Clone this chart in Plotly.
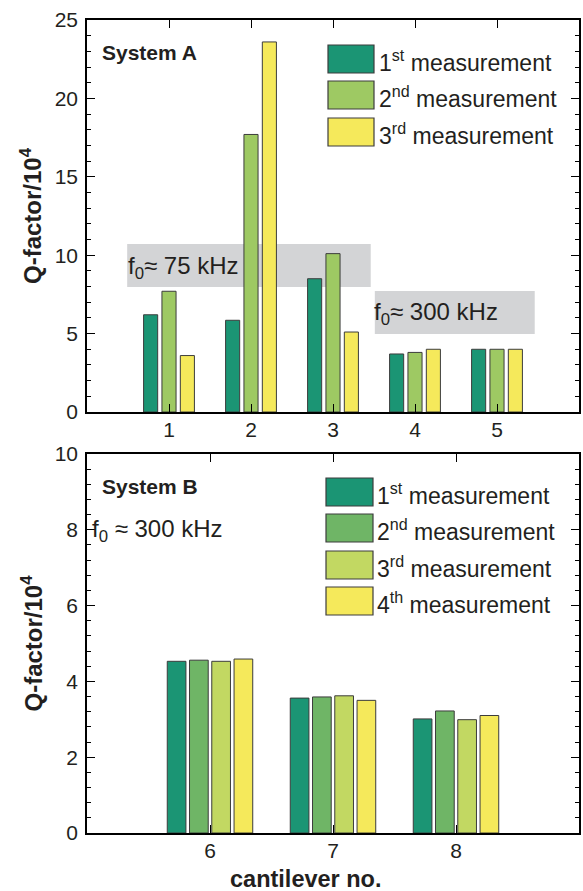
import plotly.graph_objects as go

# ---------------- data ----------------
cantilevers_A = [1, 2, 3, 4, 5]
A_meas1 = [6.2, 5.85, 8.5, 3.7, 4.0]
A_meas2 = [7.7, 17.7, 10.1, 3.8, 4.0]
A_meas3 = [3.6, 23.6, 5.1, 4.0, 4.0]

cantilevers_B = [6, 7, 8]
B_meas1 = [4.53, 3.56, 3.01]
B_meas2 = [4.56, 3.59, 3.22]
B_meas3 = [4.53, 3.62, 2.99]
B_meas4 = [4.59, 3.50, 3.10]

labels_A = ["1<sup>st</sup> measurement", "2<sup>nd</sup> measurement", "3<sup>rd</sup> measurement"]
labels_B = ["1<sup>st</sup> measurement", "2<sup>nd</sup> measurement",
            "3<sup>rd</sup> measurement", "4<sup>th</sup> measurement"]

colors_A = ["#1b9574", "#9ec963", "#f5e95b"]
colors_B = ["#1b9574", "#6fb566", "#c2d862", "#f5e95b"]

# ---------------- figure ----------------
W, H = 583, 891
FONT = "Liberation Sans, Arial, Helvetica, sans-serif"
INK = "#231f20"
OUTLINE = "#3c3c3c"

def px(x):
    return x / W

def py(y):
    return 1 - y / H

fig = go.Figure()

# bar geometry (in axis units)
SLOT_A, BAR_A = 0.224, 0.172
SLOT_B, BAR_B = 0.181, 0.152

seriesA = [A_meas1, A_meas2, A_meas3]
for i, (vals, name, col) in enumerate(zip(seriesA, labels_A, colors_A)):
    off = (i - (len(seriesA) - 1) / 2) * SLOT_A - BAR_A / 2
    fig.add_trace(go.Bar(x=cantilevers_A, y=vals, name=name, marker_color=col,
                         marker_line=dict(color=OUTLINE, width=1),
                         width=BAR_A, offset=off,
                         xaxis="x", yaxis="y", showlegend=False))

seriesB = [B_meas1, B_meas2, B_meas3, B_meas4]
for i, (vals, name, col) in enumerate(zip(seriesB, labels_B, colors_B)):
    off = (i - (len(seriesB) - 1) / 2) * SLOT_B - BAR_B / 2
    fig.add_trace(go.Bar(x=cantilevers_B, y=vals, name=name, marker_color=col,
                         marker_line=dict(color=OUTLINE, width=1),
                         width=BAR_B, offset=off,
                         xaxis="x2", yaxis="y2", showlegend=False))

axis_common = dict(showline=True, linecolor="black", linewidth=1.6, mirror="ticks",
                   ticks="inside", tickcolor="black", tickwidth=1.2, ticklen=8,
                   showgrid=False, zeroline=False, automargin=False,
                   tickfont=dict(family=FONT, size=21, color=INK))

xdom = [px(87), px(579)]

fig.update_layout(
    width=W, height=H,
    margin=dict(l=0, r=0, t=0, b=0, autoexpand=False),
    paper_bgcolor="white", plot_bgcolor="white",
    barmode="overlay",
    showlegend=False,
    xaxis=dict(axis_common, domain=xdom, range=[0, 6], tickvals=cantilevers_A,
               anchor="y", ticklabelstandoff=-2),
    yaxis=dict(axis_common, domain=[py(412), py(20)], range=[0, 25],
               tickvals=[0, 5, 10, 15, 20, 25], anchor="x",
               minor=dict(dtick=1, ticks="inside", ticklen=4, tickcolor="black", tickwidth=1),
               ticklabelstandoff=3),
    xaxis2=dict(axis_common, domain=xdom, range=[5, 9], tickvals=cantilevers_B,
                anchor="y2", ticklabelstandoff=-2),
    yaxis2=dict(axis_common, domain=[py(833), py(454)], range=[0, 10],
                tickvals=[0, 2, 4, 6, 8, 10], anchor="x2",
                minor=dict(dtick=0.4, ticks="inside", ticklen=4, tickcolor="black", tickwidth=1),
                ticklabelstandoff=3),
)

shapes = []
annotations = []

# gray frequency boxes (data coordinates, below bars)
shapes.append(dict(type="rect", xref="x", yref="y", x0=0.49, x1=3.46, y0=7.97, y1=10.71,
                   fillcolor="#d3d4d6", line=dict(width=0), layer="below"))
shapes.append(dict(type="rect", xref="x", yref="y", x0=3.51, x1=5.46, y0=4.97, y1=7.72,
                   fillcolor="#d3d4d6", line=dict(width=0), layer="below"))

annotations.append(dict(xref="paper", yref="paper", x=px(126), y=py(268), xanchor="left",
                        yanchor="middle", showarrow=False, text="f<sub>0</sub>≈ 75 kHz",
                        font=dict(family=FONT, size=24, color=INK)))
annotations.append(dict(xref="paper", yref="paper", x=px(372), y=py(314), xanchor="left",
                        yanchor="middle", showarrow=False, text="f<sub>0</sub>≈ 300 kHz",
                        font=dict(family=FONT, size=24, color=INK)))

# panel labels
annotations.append(dict(xref="paper", yref="paper", x=px(100), y=py(53), xanchor="left",
                        yanchor="middle", showarrow=False, text="<b>System A</b>",
                        font=dict(family=FONT, size=21, color=INK)))
annotations.append(dict(xref="paper", yref="paper", x=px(100), y=py(487), xanchor="left",
                        yanchor="middle", showarrow=False, text="<b>System B</b>",
                        font=dict(family=FONT, size=21, color=INK)))
annotations.append(dict(xref="paper", yref="paper", x=px(90), y=py(530), xanchor="left",
                        yanchor="middle", showarrow=False, text="f<sub>0</sub> ≈ 300 kHz",
                        font=dict(family=FONT, size=24, color=INK)))

# custom legends
legA_y = [(45, 73), (81, 109), (118, 146)]
for (y0, y1), lab, col in zip(legA_y, labels_A, colors_A):
    shapes.append(dict(type="rect", xref="paper", yref="paper", x0=px(328), x1=px(374),
                       y0=py(y1), y1=py(y0), fillcolor=col, line=dict(color=OUTLINE, width=1.2)))
    annotations.append(dict(xref="paper", yref="paper", x=px(377), y=py((y0 + y1) / 2 + 2),
                            xanchor="left", yanchor="middle", showarrow=False, text=lab,
                            font=dict(family=FONT, size=23, color=INK)))

legB_y = [(478, 506), (514, 542), (551, 579), (587, 615)]
for (y0, y1), lab, col in zip(legB_y, labels_B, colors_B):
    shapes.append(dict(type="rect", xref="paper", yref="paper", x0=px(326), x1=px(373),
                       y0=py(y1), y1=py(y0), fillcolor=col, line=dict(color=OUTLINE, width=1.2)))
    annotations.append(dict(xref="paper", yref="paper", x=px(375), y=py((y0 + y1) / 2 + 2),
                            xanchor="left", yanchor="middle", showarrow=False, text=lab,
                            font=dict(family=FONT, size=23, color=INK)))

# axis titles
for yc in [(20 + 412) / 2, (454 + 833) / 2]:
    annotations.append(dict(xref="paper", yref="paper", x=px(31), y=py(yc), xanchor="center",
                            yanchor="middle", showarrow=False, textangle=-90,
                            text="<b>Q-factor/10<sup>4</sup></b>",
                            font=dict(family=FONT, size=24, color=INK)))
annotations.append(dict(xref="paper", yref="paper", x=px(306), y=py(879), xanchor="center",
                        yanchor="middle", showarrow=False, text="<b>cantilever no.</b>",
                        font=dict(family=FONT, size=23.5, color=INK)))

fig.update_layout(shapes=shapes, annotations=annotations)

post = (
    "document.documentElement.style.margin='0';"
    "document.documentElement.style.overflow='hidden';"
    "document.body.style.margin='0';"
    "document.body.style.overflow='hidden';"
    "var gd=document.getElementById('{plot_id}');"
    "gd.style.position='fixed';gd.style.left='0px';gd.style.top='0px';"
)

fig.write_html("out.html", config={"displayModeBar": False}, post_script=post)
